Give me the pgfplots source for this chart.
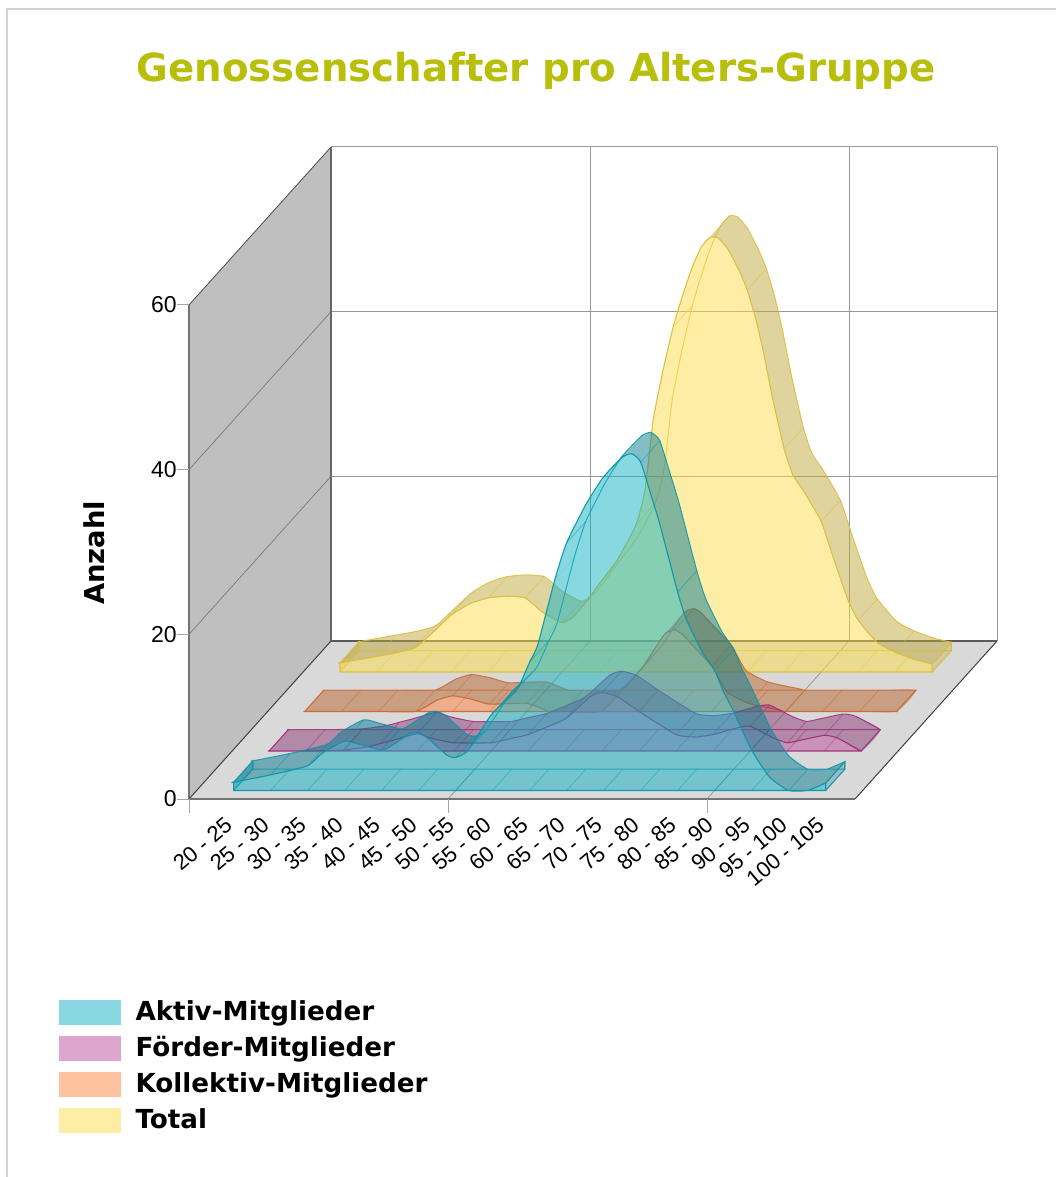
\documentclass[border=0pt]{standalone}
\usepackage{pgfplots}
\usepackage{pgfplotstable}
\usepackage{fontspec}
\pgfplotsset{compat=1.18}
\setmainfont{Liberation Sans}
\newfontfamily\dv{DejaVu Sans}[BoldFont={DejaVu Sans Bold}]

\definecolor{aBase}{RGB}{17,177,197}
\definecolor{aTop}{RGB}{8,125,146}
\definecolor{aLine}{RGB}{10,150,168}
\definecolor{fBase}{RGB}{187,77,157}
\definecolor{fTop}{RGB}{140,58,118}
\definecolor{fLine}{RGB}{160,45,125}
\definecolor{kBase}{RGB}{255,133,65}
\definecolor{kTop}{RGB}{184,102,46}
\definecolor{kLine}{RGB}{205,105,50}
\definecolor{tBase}{RGB}{253,221,75}
\definecolor{tTop}{RGB}{191,169,61}
\definecolor{tLine}{RGB}{220,190,60}
\definecolor{titleCol}{RGB}{184,191,10}

\pgfplotstableread{
x z
1 1.1
2 1.9
2.49 2.3
3 2.9
3.22 3.6
4 6.9
4.51 8.3
5 9.0
5.51 9.2
6 9.0
6.49 7.2
7 6.0
7.30 6.7
7.68 8.7
8 10.7
8.49 13.6
9 17.9
9.24 22.1
9.46 30.6
9.73 36.7
10 41.9
10.24 45.5
10.51 49.1
10.76 51.6
11 52.8
11.22 52.7
11.49 51.3
11.81 48.5
12 46.4
12.22 43.1
12.43 39.1
12.68 33.4
13 27.1
13.24 23.9
13.51 22.1
14 18.3
14.32 14.0
14.73 8.7
15 6.3
15.51 3.6
16 2.4
16.54 1.5
17 1.0
}\tblTotal

\pgfplotstableread{
x z
1 0
2 0
3 0
4 0
4.59 1.4
5 1.9
5.51 1.5
6 0.9
7 1.0
7.62 0
8 0
9 0
9.59 2.6
10 4.7
10.14 5.4
10.73 9.4
11 9.9
11.22 9.3
12 5.5
12.41 2.4
13 1.0
13.92 0.1
14 0
15 0
16 0
17 0
}\tblKollektiv

\pgfplotstableread{
x z
1 0
2 0
3 0.1
3.65 0.5
4 0.9
4.35 1.3
5 2.1
5.35 1.6
6 1.0
7 1.0
7.51 1.5
8 2.0
9 3.9
9.68 6.6
10 7.1
10.41 6.6
11 4.8
12 2.0
12.51 1.7
13 2.0
13.65 2.8
14 3.0
14.62 1.6
15 1.0
15.35 1.3
16 1.9
16.35 1.6
17 0
}\tblFoerder

\pgfplotstableread{
x z
1 1.0
2 1.9
3 3.0
3.41 4.6
4 6.0
4.41 5.6
5 4.9
5.22 5.3
5.76 6.9
6 7.0
6.24 6.4
6.76 4.3
7 4.0
7.30 4.7
7.57 6.5
8 9.4
8.65 12.2
9 15.6
9.22 17.7
9.68 25.6
10 30.1
10.54 34.9
11 38.1
11.51 40.5
11.76 40.9
12 39.9
12.32 35.3
12.51 32.5
13 24.1
13.24 20.7
13.68 16.7
14 14.6
14.22 12.2
14.49 9.8
15 4.9
15.49 1.6
16 0
16.51 0
17 0.9
}\tblAktiv

% #1 table, #2 front depth, #3 back depth, #4 base colour, #5 top colour, #6 line colour
\newcommand\flushrun[1]{%
  \edef\tmp{\noexpand\addplot3[forget plot,smooth,tension=.3,draw=none,fill=#1,fill opacity=.5] coordinates {\runF \runB};}\tmp
}
\newcommand\drawseries[6]{%
  \pgfplotstablegetrowsof{#1}%
  \pgfmathtruncatemacro\nr{\pgfplotsretval-1}%
  \gdef\frontc{}\gdef\backc{}\gdef\crossc{}\gdef\basec{}%
  \gdef\runF{}\gdef\runB{}\gdef\px{0}\gdef\pz{0}%
  \def\basef##1{(17,##1,0)(17,##1,0)(16.9,##1,0)(16,##1,0)(9,##1,0)(2,##1,0)(1.1,##1,0)(1,##1,0)(1,##1,0)}%
  \foreach \r in {0,...,\nr}{%
    \pgfplotstablegetelem{\r}{x}\of{#1}\let\vx\pgfplotsretval
    \pgfplotstablegetelem{\r}{z}\of{#1}\let\vz\pgfplotsretval
    \xdef\frontc{\frontc (\vx,#2,\vz)}%
    \xdef\backc{\backc (\vx,#3,\vz)}%
    \ifnum\r>0
      \pgfmathtruncatemacro\vis{(\vz-\pz) < 5.0*(\vx-\px) ? 1 : 0}%
      \ifnum\vis=0
        \flushrun{#5}%
        \gdef\runF{}\gdef\runB{}%
      \fi
    \fi
    \xdef\runF{\runF (\vx,#2,\vz)}%
    \xdef\runB{(\vx,#3,\vz) \runB}%
    \xdef\px{\vx}\xdef\pz{\vz}%
    \pgfmathtruncatemacro\isint{abs(\vx-round(\vx))<0.001 ? 1 : 0}%
    \pgfmathtruncatemacro\ispos{\vz>0.05 ? 1 : 0}%
    \ifnum\isint=1
      \ifnum\ispos=1
        \xdef\crossc{\crossc (\vx,#2,\vz)(\vx,#3,\vz)(\vx,#2,nan)}%
      \fi
      \xdef\basec{\basec (\vx,#2,0)(\vx,#3,0)(\vx,#2,nan)}%
    \fi
    \ifnum\r=0 \xdef\zfirst{\vz}\fi
    \ifnum\r=\nr \xdef\zlast{\vz}\fi
  }%
  \flushrun{#5}%
  % back outline
  \edef\tmp{\noexpand\addplot3[forget plot,smooth,tension=.3,draw=#6,draw opacity=.85,line width=.5pt] coordinates {(1,#3,0)(1,#3,0)(1,#3,\zfirst) \backc (17,#3,\zlast) \basef{#3}};}\tmp
  \edef\tmp{\noexpand\addplot3[forget plot,draw=#6,draw opacity=.5,line width=.4pt,unbounded coords=jump] coordinates {\basec};}\tmp
  % left cap
  \edef\tmp{\noexpand\addplot3[forget plot,draw=#6,draw opacity=.85,line width=.5pt,fill=#5,fill opacity=.3] coordinates {(1,#2,0)(1,#3,0)(1,#3,\zfirst)(1,#2,\zfirst)(1,#2,0)};}\tmp
  \edef\tmp{\noexpand\addplot3[forget plot,draw=#6,draw opacity=.5,line width=.4pt,unbounded coords=jump] coordinates {\crossc};}\tmp
  % right cap
  \edef\tmp{\noexpand\addplot3[forget plot,draw=#6,draw opacity=.85,line width=.5pt,fill=#5,fill opacity=.3] coordinates {(17,#2,0)(17,#3,0)(17,#3,\zlast)(17,#2,\zlast)(17,#2,0)};}\tmp
  % front face
  \edef\tmp{\noexpand\addplot3[forget plot,smooth,tension=.3,draw=#6,draw opacity=.95,line width=.55pt,fill=#4,fill opacity=.5] coordinates {(1,#2,0)(1,#2,0)(1,#2,\zfirst) \frontc (17,#2,\zlast) \basef{#2}};}\tmp
}

\begin{document}
\begin{tikzpicture}
\path[use as bounding box] (0,0) rectangle (528pt,588.5pt);
\draw[color=black!18,line width=1pt] (3.5pt,0pt) -- (3.5pt,584pt) -- (528pt,584pt);
\begin{axis}[
  at={(94.5pt,189pt)}, anchor=origin,
  x={(18.5pt,0pt)}, y={(17.75pt,19.75pt)}, z={(0pt,4.1167pt)},
  xmin=0,xmax=18,ymin=0,ymax=4,zmin=0,zmax=60,
  clip=false,
  axis line style={draw=none},
  major tick length=0pt,
  xtick={1,...,17},
  xticklabels={20 - 25,25 - 30,30 - 35,35 - 40,40 - 45,45 - 50,50 - 55,55 - 60,60 - 65,65 - 70,70 - 75,75 - 80,80 - 85,85 - 90,90 - 95,95 - 100,100 - 105},
  ytick=\empty,
  ztick={0,20,40,60},
  /pgf/number format/assume math mode=true,
  z tick label style={font=\fontsize{11.5}{13}\selectfont,anchor=east,inner sep=0pt,xshift=-6pt},
  x tick label style={font=\fontsize{11}{13}\selectfont,rotate=40,anchor=north east,inner sep=0pt,xshift=-6.2pt,yshift=-5.65pt},
  title={\dv\bfseries Genossenschafter pro Alters-Gruppe},
  every axis title shift=0pt,
  title style={at={(axis cs:9.38,0,88.4)},anchor=center,font=\fontsize{19.35}{23}\selectfont,text=titleCol},
  zlabel={\dv\bfseries Anzahl},
  every axis z label/.style={at={(axis cs:-2.56,0,29.9)},rotate=90,anchor=center,font=\fontsize{13.7}{16}\selectfont},
  legend style={at={(axis cs:-3.51,0,-24.4)},anchor=north west,draw=none,fill=none,inner sep=0pt,outer sep=0pt,
    font=\fontsize{13.1}{15}\selectfont\dv\bfseries,row sep=5.5pt,
    nodes={inner sep=0pt,outer sep=0pt}},
  legend cell align=left,
]
\addlegendimage{legend image code/.code={\fill[draw=none,fill=aBase,fill opacity=.5] (0pt,-6.25pt) rectangle (31pt,6.25pt);\path (38pt,0pt);}}
\addlegendentry{\raisebox{-4.75pt}{\smash{Aktiv-Mitglieder}}}
\addlegendimage{legend image code/.code={\fill[draw=none,fill=fBase,fill opacity=.5] (0pt,-6.25pt) rectangle (31pt,6.25pt);\path (38pt,0pt);}}
\addlegendentry{\raisebox{-4.75pt}{\smash{Förder-Mitglieder}}}
\addlegendimage{legend image code/.code={\fill[draw=none,fill=kBase,fill opacity=.5] (0pt,-6.25pt) rectangle (31pt,6.25pt);\path (38pt,0pt);}}
\addlegendentry{\raisebox{-4.75pt}{\smash{Kollektiv-Mitglieder}}}
\addlegendimage{legend image code/.code={\fill[draw=none,fill=tBase,fill opacity=.5] (0pt,-6.25pt) rectangle (31pt,6.25pt);\path (38pt,0pt);}}
\addlegendentry{\raisebox{-4.75pt}{\smash{Total}}}

% walls
\addplot3[forget plot,draw=none,fill=black!25] coordinates {(0,0,0)(0,4,0)(0,4,60)(0,0,60)(0,0,0)};
\addplot3[forget plot,draw=none,fill=black!15] coordinates {(0,0,0)(18,0,0)(18,4,0)(0,4,0)(0,0,0)};
% grid
\addplot3[forget plot,draw=black!40,line width=.5pt] coordinates {(0,4,20)(18,4,20)};
\addplot3[forget plot,draw=black!40,line width=.5pt] coordinates {(0,4,40)(18,4,40)};
\addplot3[forget plot,draw=black!40,line width=.5pt] coordinates {(0,4,60)(18,4,60)};
\addplot3[forget plot,draw=black!40,line width=.5pt] coordinates {(7,4,0)(7,4,60)};
\addplot3[forget plot,draw=black!40,line width=.5pt] coordinates {(14,4,0)(14,4,60)};
\addplot3[forget plot,draw=black!40,line width=.5pt] coordinates {(18,4,0)(18,4,60)};
\addplot3[forget plot,draw=black!50,line width=.4pt] coordinates {(0,0,20)(0,4,20)};
\addplot3[forget plot,draw=black!50,line width=.4pt] coordinates {(0,0,40)(0,4,40)};
\addplot3[forget plot,draw=black!70,line width=.4pt] coordinates {(0,0,60)(0,4,60)};
\addplot3[forget plot,draw=black!40,line width=.4pt] coordinates {(7,0,0)(7,4,0)};
\addplot3[forget plot,draw=black!40,line width=.4pt] coordinates {(14,0,0)(14,4,0)};
% edges
\addplot3[forget plot,draw=black!55,line width=.7pt] coordinates {(0,0,0)(0,0,60)};
\addplot3[forget plot,draw=black!60,line width=.9pt] coordinates {(0,4,0)(0,4,60)};
\addplot3[forget plot,draw=black!75,line width=.5pt] coordinates {(0,0,0)(0,4,0)};
\addplot3[forget plot,draw=black!75,line width=.5pt] coordinates {(18,0,0)(18,4,0)};
\addplot3[forget plot,draw=black!65,line width=.7pt] coordinates {(0,4,0)(18,4,0)};
\addplot3[forget plot,draw=black!55,line width=.8pt] coordinates {(0,0,0)(18,0,0)};
% tick marks
\addplot3[forget plot,draw=black!35,line width=.5pt] coordinates {(0,0,0)(0,0,-1.7)};
\addplot3[forget plot,draw=black!35,line width=.5pt] coordinates {(7,0,0)(7,0,-1.7)};
\addplot3[forget plot,draw=black!35,line width=.5pt] coordinates {(14,0,0)(14,0,-1.7)};
\addplot3[forget plot,draw=black!35,line width=.5pt] coordinates {(0,0,0)(-.32,0,0)};
\addplot3[forget plot,draw=black!35,line width=.5pt] coordinates {(0,0,20)(-.32,0,20)};
\addplot3[forget plot,draw=black!35,line width=.5pt] coordinates {(0,0,40)(-.32,0,40)};
\addplot3[forget plot,draw=black!35,line width=.5pt] coordinates {(0,0,60)(-.32,0,60)};

\drawseries{\tblTotal}{3.215}{3.755}{tBase}{tTop}{tLine}
\drawseries{\tblKollektiv}{2.215}{2.755}{kBase}{kTop}{kLine}
\drawseries{\tblFoerder}{1.215}{1.755}{fBase}{fTop}{fLine}
\drawseries{\tblAktiv}{0.215}{0.755}{aBase}{aTop}{aLine}
\end{axis}
\end{tikzpicture}
\end{document}
